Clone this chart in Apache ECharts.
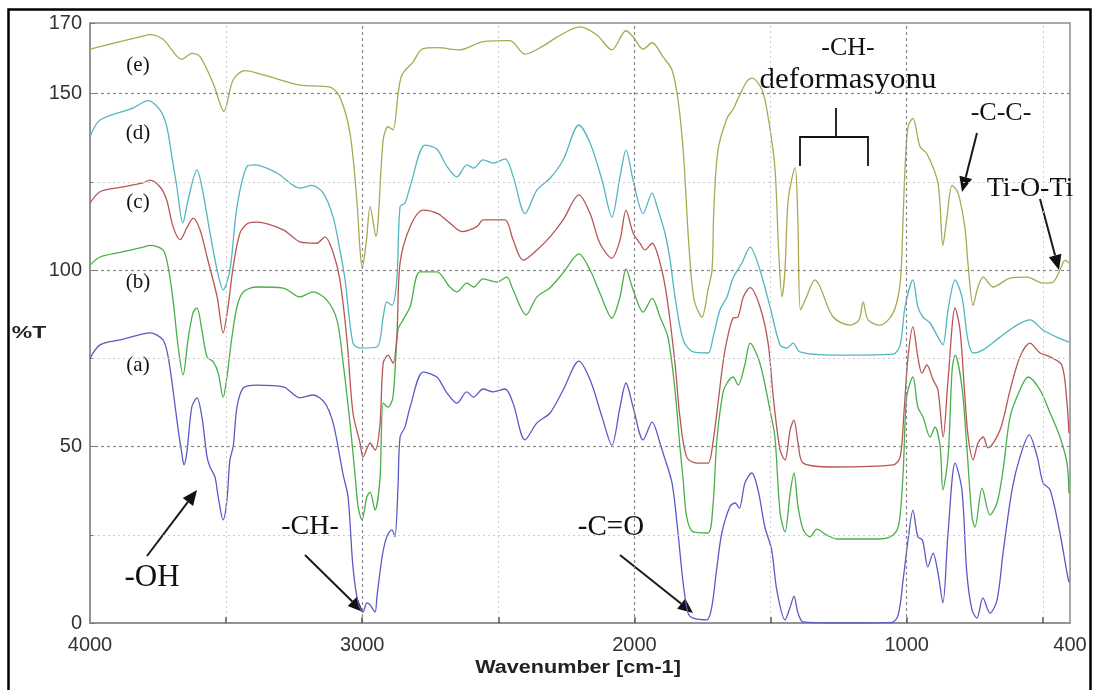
<!DOCTYPE html>
<html>
<head>
<meta charset="utf-8">
<script src="https://cdn.jsdelivr.net/npm/echarts@6/dist/echarts.min.js"></script>
<style>
  html, body { margin: 0; padding: 0; background: #fff; }
  #chart { width: 1093px; height: 690px; }
</style>
</head>
<body>
<div id="chart"></div>
<script>
// FTIR spectra, [wavenumber (cm-1), %T] pairs for each sample (offset traces)
const specE = [[4000,162.6],[3890,164.7],[3805,166.3],[3783,166.7],[3732,165.4],[3662,159.7],[3626,161.4],[3596,160.5],[3548,153],[3508,145],[3474,153.9],[3431,156.5],[3351,155],[3229,152.4],[3118,151.8],[3082,149],[3045,138.8],[3020,120],[3008,105.7],[3000,100.6],[2985,108],[2971,118],[2950,109.5],[2923,136.9],[2905,140.6],[2887,139.7],[2868,150],[2854,155.3],[2813,159],[2780,162.6],[2725,163],[2641,162.4],[2556,164.7],[2457,165],[2402,161.2],[2335,163.5],[2285,166],[2200,168.9],[2138,166.6],[2083,162.4],[2031,167.8],[2005,166.1],[1968,162.6],[1935,164.4],[1895,160.4],[1862,156.7],[1840,148.2],[1821,134],[1803,110.5],[1790,97],[1778,90.7],[1752,86.7],[1730,94.3],[1715,100],[1708,118],[1693,134],[1660,143],[1638,145.5],[1623,148],[1587,153.5],[1568,154.4],[1531,151],[1509,143.4],[1484,129],[1470,105],[1458,92.4],[1447,100],[1435,120],[1410,129],[1400,115],[1390,88.7],[1370,92],[1337,97.2],[1318,95.2],[1270,86.7],[1208,84.4],[1175,85.9],[1160,91],[1142,85.9],[1098,84.4],[1050,87.8],[1024,96.3],[1013,115],[1006,129],[995,140.6],[977,143],[951,135],[926,133],[885,124.6],[867,107],[852,115],[833,124],[811,121.8],[786,112],[775,102],[756,90],[738,95.2],[719,98],[683,95.2],[620,97.7],[558,98],[499,96.3],[462,96.6],[437,100],[418,102.8],[404,102]];

const specD = [[4000,137.7],[3963,142.5],[3842,145.9],[3787,148],[3743,145.4],[3718,140.6],[3699,132],[3681,123.6],[3659,113.3],[3640,119.8],[3607,128.4],[3589,123.6],[3559,110.5],[3533,100],[3511,94.4],[3486,100],[3460,118],[3423,129.4],[3394,129.8],[3313,127.5],[3229,123.2],[3185,124],[3143,121.8],[3107,115],[3082,105.7],[3063,97.2],[3034,79.3],[3008,77.9],[2946,78.2],[2923,86.7],[2910,91],[2891,90],[2873,97.2],[2861,118],[2843,119],[2824,123.6],[2769,135.4],[2726,134.3],[2689,129.4],[2652,126.4],[2616,129.8],[2591,128.9],[2556,131.2],[2519,130.3],[2475,131.5],[2445,126.4],[2402,116],[2358,122.7],[2310,126],[2262,131.2],[2204,141.1],[2163,136],[2119,125.5],[2083,115],[2053,126.4],[2031,134],[2005,125.5],[1968,116],[1935,121.8],[1917,118],[1888,110.5],[1869,102.8],[1851,92.4],[1821,80.2],[1784,76.8],[1730,76.5],[1711,81],[1686,88.7],[1660,92.4],[1638,97.7],[1605,102],[1575,106.5],[1539,100],[1502,89.6],[1465,78.8],[1440,77.9],[1417,79.3],[1392,76.8],[1270,75.9],[1050,76.2],[1024,78.8],[1006,89.6],[977,97.2],[959,89.6],[940,86.7],[914,85],[885,81],[867,78.8],[848,88.7],[822,97.2],[797,92.4],[775,80.2],[756,76.5],[719,77.4],[657,81],[595,84.4],[547,85.9],[499,83],[449,81],[404,79.6]];

const specC = [[4000,119],[3963,122.2],[3890,123.4],[3805,124.7],[3780,125.5],[3743,123.6],[3718,119.8],[3695,112.3],[3669,108.6],[3644,112],[3621,114.7],[3596,111.4],[3570,103.7],[3533,92.4],[3511,82.2],[3493,89.6],[3474,100.9],[3449,110.5],[3419,113.3],[3387,113.6],[3290,111.4],[3229,108],[3167,107.6],[3137,109.4],[3107,105],[3082,97.2],[3056,80.2],[3034,59.5],[3008,51],[2997,47],[2971,51],[2953,49],[2935,56],[2923,73.6],[2905,75.9],[2887,73.6],[2873,81],[2861,102],[2824,112.3],[2776,117],[2722,116],[2678,113.3],[2634,110.9],[2579,112.3],[2556,114.2],[2519,114.2],[2475,114.2],[2446,108.6],[2409,102.8],[2358,105.7],[2310,109.4],[2262,114.2],[2204,121.3],[2163,116],[2127,107.6],[2083,103.4],[2053,108.5],[2031,117],[2005,110.5],[1980,107.6],[1961,105.7],[1935,107.6],[1906,102],[1881,92.4],[1851,73.6],[1833,58.4],[1808,47],[1771,45.3],[1730,45.3],[1712,51],[1693,62.3],[1675,73.6],[1660,80.2],[1638,86.4],[1620,86.7],[1600,92.4],[1575,95],[1539,89.6],[1509,79.3],[1490,64],[1465,49],[1447,46.2],[1428,54.7],[1414,57.5],[1399,51],[1380,45.3],[1270,44.2],[1050,44.8],[1024,47],[1010,59.5],[995,75.4],[977,83.9],[959,75.4],[944,70.8],[926,73.1],[903,68.9],[885,66],[866,52.7],[848,68.9],[822,89.3],[804,83],[786,64],[774,52.7],[756,46.2],[738,51],[719,52.7],[701,49.6],[657,54.7],[620,66],[584,75.4],[547,79.3],[510,76.5],[473,75.4],[430,73.1],[411,62.3],[404,53.8]];

const specB = [[4000,101.4],[3963,103.7],[3890,105],[3805,106.5],[3780,107],[3732,105.7],[3713,100.9],[3695,91.5],[3676,78.2],[3658,70.3],[3640,80.2],[3622,87.8],[3607,89.3],[3589,83],[3570,75.4],[3547,74],[3529,70.8],[3511,64],[3497,69.7],[3480,80.2],[3460,89.6],[3437,93.8],[3387,95.2],[3290,94.9],[3229,92.4],[3180,93.8],[3130,91.5],[3093,85.9],[3070,73.6],[3045,56.7],[3027,42.5],[3015,32.9],[3001,29.2],[2983,35.7],[2971,37.1],[2953,32],[2935,40.5],[2923,62.3],[2905,61.2],[2887,64],[2869,83],[2850,85.9],[2824,89.6],[2788,99.5],[2726,99.5],[2678,95.2],[2652,93.8],[2616,96.3],[2591,95.2],[2556,97.5],[2506,96.6],[2469,98],[2446,94.4],[2398,87.3],[2358,92.4],[2310,95],[2262,99.2],[2204,104.6],[2163,100],[2127,93.5],[2083,86.4],[2053,92.4],[2031,100.3],[2005,94.4],[1968,88.1],[1935,92],[1906,86.7],[1877,81],[1851,66],[1833,49.9],[1821,40.5],[1808,30],[1784,25.8],[1730,25.5],[1712,32.9],[1697,52],[1675,65.2],[1660,68],[1638,69.7],[1619,67.4],[1595,73],[1575,79.3],[1539,73.6],[1502,60.3],[1484,52.7],[1465,31.2],[1447,25.8],[1428,36.8],[1414,42.5],[1399,32.9],[1380,26.4],[1355,24.4],[1330,26.6],[1293,24.9],[1256,23.8],[1098,23.8],[1050,24.9],[1028,28.3],[1013,42.5],[1000,64],[977,69.7],[959,61.2],[940,58.4],[914,52.7],[896,55.5],[877,49.9],[867,37.7],[848,47],[833,71.7],[822,75.9],[797,66.9],[779,49.9],[760,30],[749,27.2],[723,38.2],[694,30.6],[668,34],[646,43.3],[620,58.4],[584,66],[554,69.7],[510,66],[473,59.5],[437,52.7],[411,45.3],[404,36.8]];

const specA = [[4000,75],[3963,78.8],[3890,80.2],[3805,81.9],[3780,82.2],[3732,80.2],[3713,75.4],[3695,66],[3676,54.7],[3663,48.2],[3655,44.8],[3644,48.5],[3626,61.2],[3607,63.8],[3589,58.4],[3570,47],[3559,44.2],[3541,41.4],[3529,35.7],[3511,29.2],[3497,34.9],[3486,46.2],[3474,50],[3460,61.2],[3437,66.6],[3387,67.4],[3290,66.9],[3229,63.8],[3180,64.6],[3137,62.3],[3107,56.7],[3082,47],[3070,42],[3052,35.7],[3034,15.9],[3015,5.7],[2997,3.1],[2983,5.7],[2971,5.1],[2953,3.1],[2946,7.4],[2927,18.7],[2910,24.4],[2891,26.4],[2880,24.4],[2869,37.7],[2861,52.7],[2843,55.5],[2824,61.2],[2776,71.1],[2726,69.7],[2689,65.2],[2652,62.3],[2616,65.5],[2591,64],[2556,66.3],[2519,65.5],[2475,66.3],[2446,62.3],[2402,51.9],[2358,56.7],[2310,59.5],[2262,66],[2204,74.2],[2163,68.9],[2119,58.4],[2083,50.4],[2053,61.2],[2031,68],[2005,61.2],[1968,51.9],[1935,56.9],[1906,51],[1895,48.2],[1862,39.7],[1840,25.5],[1821,11.3],[1803,2.8],[1784,1.4],[1734,0.9],[1716,4.5],[1697,15.9],[1679,25.5],[1649,33],[1630,34],[1615,32.5],[1594,39.7],[1569,42.5],[1546,37.7],[1521,27.2],[1496,20.7],[1477,9.3],[1447,0.9],[1428,4.5],[1414,7.6],[1399,2.8],[1380,0.3],[1270,0],[1054,0.2],[1031,2.3],[1013,12.2],[995,23.5],[977,32],[959,24.4],[942,23.5],[922,15.9],[903,19.8],[885,14.2],[867,5.7],[848,25.5],[822,45.3],[797,37.7],[779,14.2],[760,3.7],[742,1.4],[720,7.1],[694,2.8],[668,6.5],[646,19.8],[613,37.7],[584,47],[550,53.3],[520,47],[499,39.7],[473,37.7],[437,25.5],[411,14.2],[404,11.6]];

// axis ranges, gridlines and labelled ticks
const xMin = 400, xMax = 4000;
const yMin = 0, yMax = 170;
const xLabelled = [4000, 3000, 2000, 1000, 400];
const yLabelled = [0, 50, 100, 150, 170];
const xGridMajor = [3000, 2000, 1000];
const xGridMinor = [3500, 2500, 1500, 500];
const yGridMajor = [50, 100, 150];
const yGridMinor = [25, 75, 125];

const traceNames = ['(a)', '(b)', '(c)', '(d)', '(e)'];
const traceData = [specA, specB, specC, specD, specE];
const traceColors = ['#5a5ac6', '#4aae4a', '#b85656', '#52b6c0', '#aaa852'];

const chart = echarts.init(document.getElementById('chart'), null, { renderer: 'canvas' });

const majorStyle = { color: '#8a8a8a', width: 1.2, type: [3, 3] };
const minorStyle = { color: '#cccccc', width: 1, type: [2, 3] };

const gridLines = []
  .concat(xGridMajor.map(v => ({ xAxis: v, lineStyle: majorStyle })))
  .concat(xGridMinor.map(v => ({ xAxis: v, lineStyle: minorStyle })))
  .concat(yGridMajor.map(v => ({ yAxis: v, lineStyle: majorStyle })))
  .concat(yGridMinor.map(v => ({ yAxis: v, lineStyle: minorStyle })))
  // short inward tick marks on the wavenumber axis
  .concat(xGridMajor.concat(xGridMinor).map(v => [
    { coord: [v, 0], lineStyle: { color: '#555', width: 1.5, type: 'solid' } },
    { coord: [v, 1.6] }
  ]));

const seriesList = [{
  type: 'line',
  data: [],
  silent: true,
  z: 1,
  markLine: {
    silent: true,
    symbol: ['none', 'none'],
    label: { show: false },
    animation: false,
    data: gridLines
  }
}].concat(traceNames.map((n, i) => ({
  name: n,
  type: 'line',
  data: traceData[i],
  showSymbol: false,
  smooth: 0.3,
  silent: true,
  z: 3,
  lineStyle: { color: traceColors[i], width: 1.3 }
})));

// arrow helper for the band annotations (pixel positions of callouts)
function arrow(x1, y1, x2, y2) {
  const dx = x2 - x1, dy = y2 - y1, L = Math.hypot(dx, dy);
  const ux = dx / L, uy = dy / L, hl = 15, hw = 6.5;
  const bx = x2 - ux * hl, by = y2 - uy * hl;
  return [
    { type: 'line', silent: true, shape: { x1: x1, y1: y1, x2: bx, y2: by }, style: { stroke: '#1a1a1a', lineWidth: 2 } },
    { type: 'polygon', silent: true, shape: { points: [[x2, y2], [bx - uy * hw, by + ux * hw], [bx + uy * hw, by - ux * hw]] }, style: { fill: '#111' } }
  ];
}

function txt(s, x, y, size, opts) {
  opts = opts || {};
  return {
    type: 'text', silent: true, x: x, y: y, scaleX: opts.sx || 1,
    style: {
      text: s, fill: opts.color || '#111',
      font: (opts.weight ? opts.weight + ' ' : '') + size + 'px ' + (opts.family || '"Liberation Serif", serif'),
      align: 'center', verticalAlign: 'middle'
    }
  };
}

const graphics = [
  // outer frame
  { type: 'rect', silent: true, shape: { x: 8.5, y: 9.5, width: 1082, height: 700 }, style: { fill: 'none', stroke: '#000', lineWidth: 2.5 } },
  // trace labels
  txt('(e)', 138, 65, 21),
  txt('(d)', 138, 133, 21),
  txt('(c)', 138, 202, 21),
  txt('(b)', 138, 282, 21),
  txt('(a)', 138, 365, 21),
  // band assignments
  txt('-CH-', 848, 48, 26),
  txt('deformasyonu', 848, 80, 30, { sx: 1.03 }),
  { type: 'polyline', silent: true, shape: { points: [[800, 166], [800, 137], [868, 137], [868, 166]] }, style: { stroke: '#111', lineWidth: 1.8, fill: 'none' } },
  { type: 'line', silent: true, shape: { x1: 836, y1: 108, x2: 836, y2: 137 }, style: { stroke: '#111', lineWidth: 1.8 } },
  txt('-C-C-', 1001, 113, 26),
  txt('Ti-O-Ti', 1030, 189, 28),
  txt('-OH', 152, 578, 31),
  txt('-CH-', 310, 527, 28),
  txt('-C=O', 611, 527, 29),
  // axis titles
  txt('%T', 29, 333, 17, { weight: 'bold', family: '"Liberation Sans", Arial, sans-serif', sx: 1.35, color: '#222' }),
  txt('Wavenumber [cm-1]', 578, 668, 18, { weight: 'bold', family: '"Liberation Sans", Arial, sans-serif', sx: 1.2, color: '#222' })
]
  .concat(arrow(977, 133, 962, 192))
  .concat(arrow(1040, 199, 1059, 270))
  .concat(arrow(147, 556, 197, 490))
  .concat(arrow(305, 555, 363, 612))
  .concat(arrow(620, 555, 693, 613));

chart.setOption({
  animation: false,
  backgroundColor: '#fff',
  grid: {
    left: 90, right: 23, top: 23, bottom: 67,
    show: true, borderColor: '#8c8c8c', borderWidth: 1.5, backgroundColor: 'transparent'
  },
  xAxis: {
    type: 'value', inverse: true, min: xMin, max: xMax, interval: 100,
    axisLine: { show: true, lineStyle: { color: '#8c8c8c', width: 1.5 } },
    axisTick: { show: false },
    splitLine: { show: false },
    axisLabel: {
      showMinLabel: true, showMaxLabel: true, margin: 12,
      color: '#333', fontSize: 20, fontFamily: '"Liberation Sans", Arial, sans-serif',
      formatter: v => (xLabelled.indexOf(v) >= 0 ? String(v) : '')
    }
  },
  yAxis: {
    type: 'value', min: yMin, max: yMax, interval: 25,
    axisLine: { show: true, lineStyle: { color: '#8c8c8c', width: 1.5 } },
    axisTick: { show: true, inside: true, length: 5, lineStyle: { color: '#777' } },
    splitLine: { show: false },
    axisLabel: {
      margin: 8, color: '#333', fontSize: 20, fontFamily: '"Liberation Sans", Arial, sans-serif',
      formatter: v => (yLabelled.indexOf(v) >= 0 ? String(v) : '')
    }
  },
  series: seriesList,
  graphic: graphics
});
</script>
</body>
</html>
